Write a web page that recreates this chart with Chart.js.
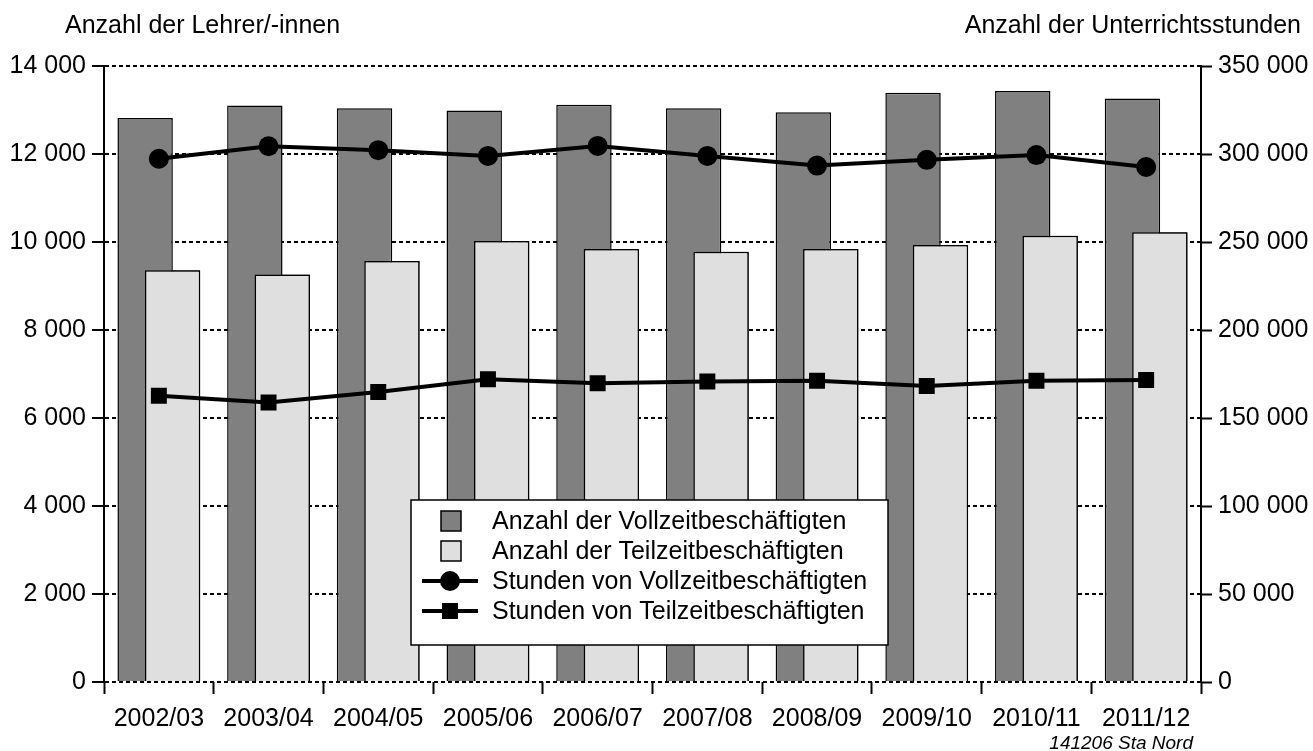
<!DOCTYPE html>
<html>
<head>
  <title>Lehrer/-innen und Unterrichtsstunden</title>
  <script src="https://cdn.jsdelivr.net/npm/chart.js"></script>
  <style>
    body {
      margin: 0;
      background: #fff;
    }
    #wrap {
      width: 1313px;
      height: 751px;
    }
  </style>
</head>
<body>

  <div id="wrap"><canvas id="chart" width="1313" height="751"></canvas></div>

  <script>
    const years = ['2002/03', '2003/04', '2004/05', '2005/06', '2006/07', '2007/08', '2008/09', '2009/10', '2010/11', '2011/12'];
    const vollzeit = [12820, 13100, 13040, 12990, 13120, 13040, 12950, 13390, 13430, 13260];
    const teilzeit = [9360, 9260, 9570, 10020, 9840, 9780, 9840, 9930, 10140, 10220];
    const stundenVoll = [297300, 304400, 302200, 298900, 304600, 298900, 293400, 296700, 299400, 292600];
    const stundenTeil = [162600, 158800, 164800, 172000, 169700, 170800, 171200, 168200, 171200, 171600];

    const FONT = '"Liberation Sans", Arial, sans-serif';
    Chart.defaults.font.family = FONT;
    Chart.defaults.font.size = 25;
    Chart.defaults.color = '#000';

    const fmt = v => String(v).replace(/\B(?=(\d{3})+(?!\d))/g, ' ');

    // light bars have to sit on top of the dark ones, so draw them again
    const overlapFix = {
      id: 'overlapFix',
      afterDatasetDraw(chart, args) {
        if (args.index === 0) chart.getDatasetMeta(1).controller.draw();
      }
    };

    const extras = {
      id: 'extras',
      afterDraw(chart) {
        const ctx = chart.ctx;
        ctx.save();
        ctx.fillStyle = '#000';
        ctx.font = '25px ' + FONT;
        ctx.textBaseline = 'alphabetic';
        ctx.textAlign = 'left';
        ctx.fillText('Anzahl der Lehrer/-innen', 65, 33);
        ctx.textAlign = 'right';
        ctx.fillText('Anzahl der Unterrichtsstunden', 1301, 33);
        ctx.font = 'italic 19px ' + FONT;
        ctx.fillText('141206 Sta Nord', 1193, 749);

        // legend
        ctx.fillStyle = '#fff';
        ctx.fillRect(411, 500, 477, 145);
        ctx.strokeStyle = '#000';
        ctx.lineWidth = 1.5;
        ctx.strokeRect(411, 500, 477, 145);

        const rows = [521, 551, 581, 611];
        ctx.fillStyle = '#808080';
        ctx.fillRect(441, rows[0] - 10, 20, 20);
        ctx.strokeRect(441, rows[0] - 10, 20, 20);
        ctx.fillStyle = '#dfdfdf';
        ctx.fillRect(441, rows[1] - 10, 20, 20);
        ctx.strokeRect(441, rows[1] - 10, 20, 20);

        ctx.fillStyle = '#000';
        ctx.lineWidth = 4;
        [rows[2], rows[3]].forEach(y => {
          ctx.beginPath();
          ctx.moveTo(422, y);
          ctx.lineTo(478, y);
          ctx.stroke();
        });
        ctx.beginPath();
        ctx.arc(450, rows[2], 10, 0, Math.PI * 2);
        ctx.fill();
        ctx.fillRect(442, rows[3] - 8, 16, 16);

        ctx.font = '25px ' + FONT;
        ctx.textAlign = 'left';
        ctx.textBaseline = 'middle';
        const names = chart.data.datasets.map(d => d.label);
        names.forEach((n, i) => ctx.fillText(n, 492, rows[i] + 1));
        ctx.restore();
      }
    };

    new Chart(document.getElementById('chart'), {
      data: {
        labels: years,
        datasets: [{
          type: 'bar',
          label: 'Anzahl der Vollzeitbeschäftigten',
          data: vollzeit,
          backgroundColor: '#808080',
          borderColor: '#000',
          borderWidth: 1.5,
          categoryPercentage: 0.5,
          barPercentage: 2.02,
          yAxisID: 'y',
          order: 1
        }, {
          type: 'bar',
          label: 'Anzahl der Teilzeitbeschäftigten',
          data: teilzeit,
          backgroundColor: '#dfdfdf',
          borderColor: '#000',
          borderWidth: 1.5,
          categoryPercentage: 0.5,
          barPercentage: 2.02,
          yAxisID: 'y',
          order: 2
        }, {
          type: 'line',
          label: 'Stunden von Vollzeitbeschäftigten',
          data: stundenVoll,
          borderColor: '#000',
          borderWidth: 4,
          pointStyle: 'circle',
          pointRadius: 10,
          pointBackgroundColor: '#000',
          pointBorderWidth: 0,
          yAxisID: 'y1',
          order: 0
        }, {
          type: 'line',
          label: 'Stunden von Teilzeitbeschäftigten',
          data: stundenTeil,
          borderColor: '#000',
          borderWidth: 4,
          pointStyle: 'rect',
          pointRadius: 11.3,
          pointBackgroundColor: '#000',
          pointBorderWidth: 0,
          yAxisID: 'y1',
          order: 0
        }]
      },
      options: {
        responsive: false,
        animation: false,
        layout: { padding: { top: 66, left: 0, right: 0, bottom: 0 } },
        plugins: {
          legend: { display: false },
          tooltip: { enabled: false }
        },
        scales: {
          x: {
            grid: {
              offset: true,
              drawOnChartArea: false,
              color: '#000',
              tickLength: 12,
              tickWidth: 2
            },
            border: { display: false },
            ticks: { padding: 10, maxRotation: 0 },
            afterFit: s => { s.height = 69; }
          },
          y: {
            position: 'left',
            min: 0,
            max: 14000,
            ticks: { stepSize: 2000, padding: 6, callback: fmt },
            grid: {
              color: '#000',
              lineWidth: 2,
              tickLength: 12,
              tickWidth: 2,
              tickBorderDash: []
            },
            border: { display: true, color: '#000', width: 2, dash: [4, 3] },
            afterFit: s => { s.width = 104; }
          },
          y1: {
            position: 'right',
            min: 0,
            max: 350000,
            ticks: { stepSize: 50000, padding: 6, callback: fmt },
            grid: {
              drawOnChartArea: false,
              color: '#000',
              tickLength: 11,
              tickWidth: 2
            },
            border: { display: true, color: '#000', width: 2 },
            afterFit: s => { s.width = 112; }
          }
        }
      },
      plugins: [overlapFix, extras]
    });
  </script>

</body>
</html>
